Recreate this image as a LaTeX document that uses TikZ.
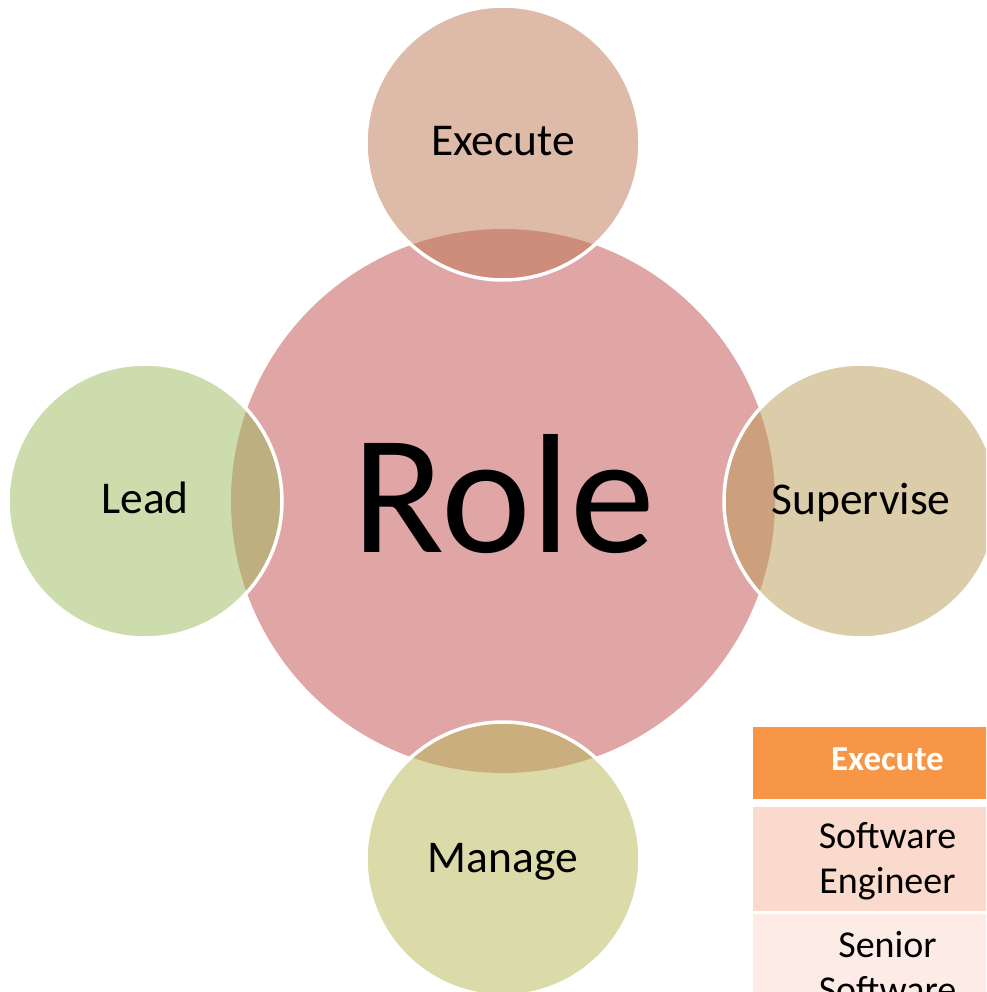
\documentclass[tikz,border=0pt]{standalone}
\usepackage{fontspec}
\setmainfont{Carlito}
\usetikzlibrary{calc}
\definecolor{rolepink}{RGB}{224,166,166}
\definecolor{execc}{RGB}{189,117,81}
\definecolor{leadc}{RGB}{155,185,89}
\definecolor{supc}{RGB}{185,155,85}
\definecolor{manc}{RGB}{183,183,85}
\definecolor{hdr}{RGB}{247,150,70}
\definecolor{rowa}{RGB}{251,218,206}
\definecolor{rowb}{RGB}{253,236,230}
\begin{document}
\begin{tikzpicture}[x=1pt,y=-1pt,
  sat/.style={circle, minimum size=274pt, inner sep=0pt, fill opacity=0.5, draw opacity=1, draw=white, line width=3.5pt},
  lbl/.style={anchor=base, inner sep=0pt, font=\fontsize{45.5}{54}\selectfont},
  cellbox/.style={rectangle, anchor=north west, inner sep=0pt, outer sep=0pt},
  celltxt/.style={anchor=base, inner sep=0pt, font=\fontsize{38}{45}\selectfont}]
\useasboundingbox (0,0) rectangle (986,992);
\clip (0,0) rectangle (986,992);
% central circle
\node[circle, minimum size=544pt, inner sep=0pt, fill=rolepink] (role) at (503,501) {};
% satellites
\node[sat, fill=execc] (exec) at (503,143) {};
\node[sat, fill=leadc] (lead) at (145,501) {};
\node[sat, fill=supc] (sup) at (861,501) {};
\node[sat, fill=manc] (man) at (503,859) {};
% texts
\node[anchor=base, inner sep=0pt, font=\fontsize{170}{200}\selectfont] (roletxt) at ($(role.center)+(1,51)$) {Role};
\node[lbl] (exectxt) at ($(exec.center)+(0,12.5)$) {Execute};
\node[lbl] (leadtxt) at ($(lead.center)+(0,12.5)$) {Lead};
\node[lbl] (suptxt) at ($(sup.center)+(0,13)$) {Supervise};
\node[lbl] (mantxt) at ($(man.center)+(0,13)$) {Manage};
% table
\node[cellbox, fill=hdr, minimum width=270pt, minimum height=72pt] (th) at (753,727) {};
\node[cellbox, fill=rowa, minimum width=270pt, minimum height=104pt] (r1) at (753,807) {};
\node[cellbox, fill=rowb, minimum width=270pt, minimum height=120pt] (r2) at (753,914) {};
\node[anchor=base, inner sep=0pt, text=white, font=\fontsize{35}{42}\selectfont\bfseries] (thtxt) at (887.5,770) {Execute};
\node[celltxt] (r1a) at (887.5,848) {Software};
\node[celltxt] (r1b) at (887.5,893) {Engineer};
\node[celltxt] (r2a) at (887.5,957) {Senior};
\node[celltxt] (r2b) at (887.5,1002) {Software};
\end{tikzpicture}
\end{document}
